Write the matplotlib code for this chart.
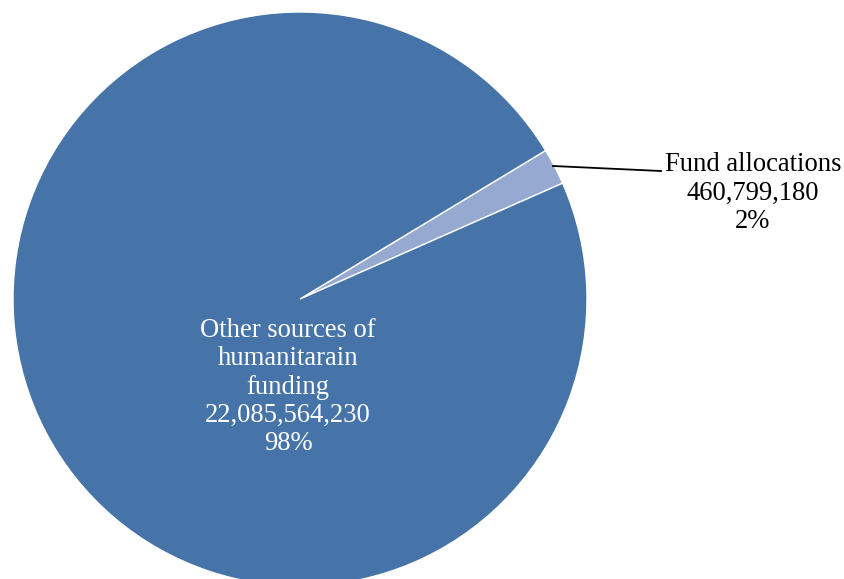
import matplotlib
matplotlib.use("Agg")
import matplotlib.pyplot as plt

labels = ["Fund allocations", "Other sources of\nhumanitarain\nfunding"]
values = [460799180, 22085564230]
pcts = ["2%", "98%"]
colors = ["#95A9D1", "#4674A9"]

plt.rcParams['font.family'] = ['Liberation Serif', 'DejaVu Serif']

fig = plt.figure(figsize=(8.44, 5.79), dpi=100)
# pie centre at pixel (300, 299), radius 287
cx, cy, r = 300, 299, 287
ax = fig.add_axes([(cx - r) / 844, (579 - cy - r) / 579, 2 * r / 844, 2 * r / 579])

ax.pie(values, colors=colors, startangle=23.8, counterclock=True, radius=1,
       wedgeprops=dict(edgecolor="white", linewidth=1))
ax.set_xlim(-1, 1)
ax.set_ylim(-1, 1)
ax.set_aspect("equal")


def to_data(px, py):
    return (px - cx) / r, (cy - py) / r


def fmt(v):
    return f"{v:,}"


# big slice label inside
x, y = to_data(288, 387)
ax.text(x, y, f"{labels[1]}\n{fmt(values[1])}\n{pcts[1]}", color="white",
        ha="center", va="center", fontsize=19.2, linespacing=1.18)

# small slice label outside with leader line
x0, y0 = to_data(553, 166)
x1, y1 = to_data(661, 171)
ax.plot([x0, x1], [y0, y1], color="black", lw=1.3, clip_on=False)
x, y = to_data(753, 193)
ax.text(x, y, f"{labels[0]}\n{fmt(values[0])}\n{pcts[0]}", color="black",
        ha="center", va="center", fontsize=19.2, linespacing=1.18)

fig.savefig("out.png", dpi=100)
